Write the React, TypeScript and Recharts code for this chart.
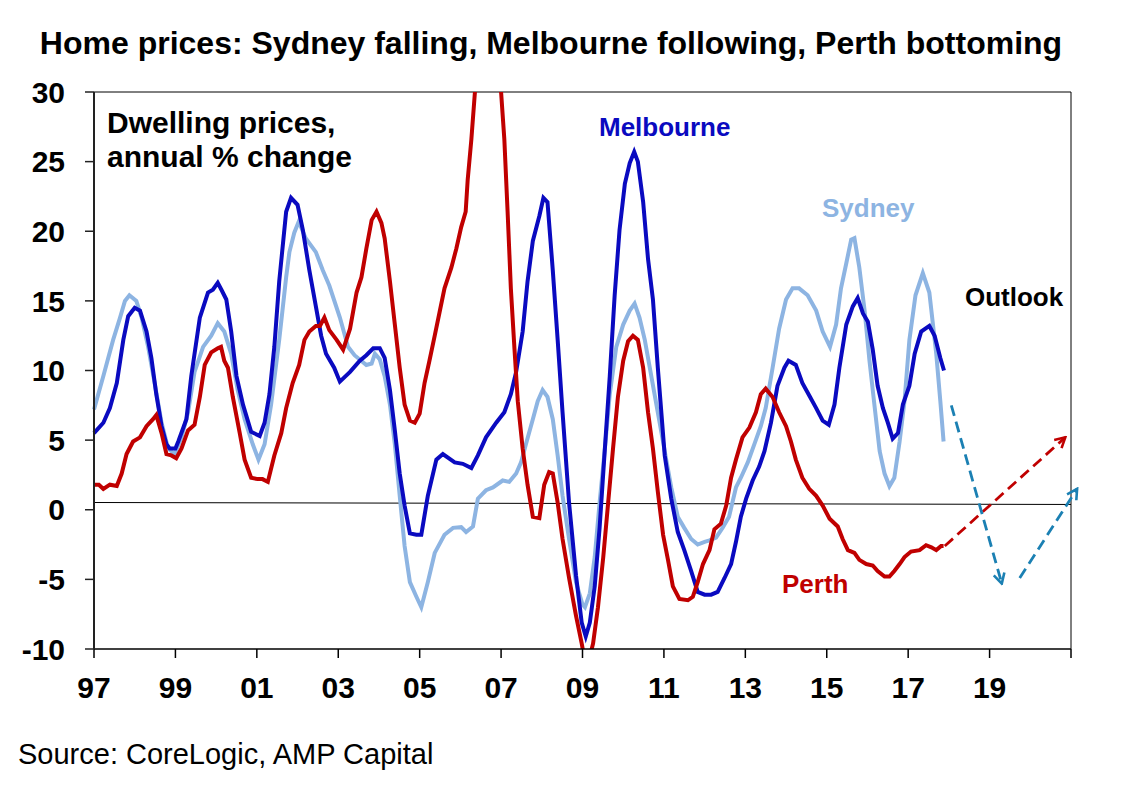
import { LineChart, Line, XAxis, YAxis, ReferenceLine } from 'recharts'

// annual % change, [year, value]
const sydney: [number, number][] = [
  [1997.0, 7.2], [1997.23, 9.6], [1997.47, 12.2], [1997.64, 13.8], [1997.76, 15.0], [1997.87, 15.4],
  [1998.04, 15.0], [1998.17, 13.8], [1998.33, 11.7], [1998.49, 9.1], [1998.66, 6.25], [1998.82, 4.4],
  [1998.98, 4.0], [1999.15, 5.2], [1999.31, 7.0], [1999.47, 9.9], [1999.68, 11.7], [1999.88, 12.5],
  [2000.04, 13.4], [2000.2, 12.8], [2000.37, 11.2], [2000.53, 8.6], [2000.7, 6.5], [2000.9, 4.7],
  [2001.04, 3.6], [2001.19, 4.7], [2001.35, 7.55], [2001.55, 12.2], [2001.72, 16.7], [2001.8, 18.5],
  [2001.92, 19.9], [2002.03, 20.7], [2002.2, 19.5], [2002.45, 18.5], [2002.62, 17.2], [2002.78, 16.1],
  [2003.04, 13.8], [2003.24, 11.7], [2003.4, 11.1], [2003.69, 10.4], [2003.82, 10.5], [2003.9, 11.2],
  [2004.02, 10.8], [2004.14, 9.6], [2004.27, 7.55], [2004.39, 4.7], [2004.51, 1.0], [2004.63, -2.6],
  [2004.76, -5.2], [2004.92, -6.25], [2005.04, -7.0], [2005.2, -5.2], [2005.37, -3.1], [2005.61, -1.8],
  [2005.82, -1.3], [2006.02, -1.25], [2006.14, -1.6], [2006.31, -1.2], [2006.43, 0.8], [2006.63, 1.4],
  [2006.8, 1.6], [2007.04, 2.1], [2007.2, 2.0], [2007.37, 2.6], [2007.49, 3.4], [2007.61, 4.7],
  [2007.78, 6.5], [2007.9, 7.8], [2008.02, 8.6], [2008.14, 8.1], [2008.27, 6.5], [2008.39, 3.9],
  [2008.51, 1.0], [2008.67, -2.1], [2008.84, -5.2], [2009.0, -6.8], [2009.06, -7.0], [2009.18, -6.0],
  [2009.3, -3.4], [2009.42, 0.5], [2009.55, 4.4], [2009.67, 8.3], [2009.83, 11.7], [2010.0, 13.3],
  [2010.16, 14.3], [2010.28, 14.8], [2010.4, 13.8], [2010.53, 12.2], [2010.69, 9.6], [2010.85, 7.0],
  [2011.02, 4.2], [2011.18, 1.6], [2011.34, -0.5], [2011.5, -1.3], [2011.67, -2.1], [2011.83, -2.5],
  [2012.0, -2.3], [2012.12, -2.2], [2012.28, -2.0], [2012.44, -1.3], [2012.6, -0.5], [2012.77, 1.6],
  [2012.89, 2.3], [2013.06, 3.4], [2013.22, 4.7], [2013.38, 6.0], [2013.5, 7.3], [2013.67, 10.2],
  [2013.83, 13.0], [2014.0, 15.1], [2014.16, 15.9], [2014.32, 15.9], [2014.53, 15.4], [2014.74, 14.3],
  [2014.9, 12.8], [2015.08, 11.7], [2015.23, 13.3], [2015.35, 15.9], [2015.48, 17.7], [2015.6, 19.4],
  [2015.68, 19.5], [2015.8, 17.4], [2015.93, 14.3], [2016.05, 10.7], [2016.17, 7.55], [2016.3, 4.2],
  [2016.42, 2.6], [2016.54, 1.7], [2016.66, 2.3], [2016.79, 4.9], [2016.91, 7.8], [2017.03, 12.2],
  [2017.18, 15.4], [2017.36, 17.0], [2017.52, 15.6], [2017.69, 11.2], [2017.79, 7.8], [2017.87, 4.9],
]

const melbourne: [number, number][] = [
  [1997.0, 5.5], [1997.23, 6.25], [1997.39, 7.3], [1997.56, 9.1], [1997.72, 12.2], [1997.84, 13.9],
  [1998.0, 14.5], [1998.13, 14.3], [1998.29, 12.8], [1998.41, 10.9], [1998.53, 8.3], [1998.66, 6.0],
  [1998.78, 4.7], [1998.86, 4.4], [1999.0, 4.4], [1999.07, 4.9], [1999.27, 6.5], [1999.39, 9.6],
  [1999.6, 13.8], [1999.8, 15.6], [1999.92, 15.8], [2000.04, 16.3], [2000.13, 15.8], [2000.25, 15.1],
  [2000.37, 12.8], [2000.5, 9.6], [2000.66, 7.55], [2000.86, 5.6], [2001.07, 5.3], [2001.19, 6.25],
  [2001.31, 8.3], [2001.43, 11.7], [2001.55, 16.4], [2001.72, 21.4], [2001.84, 22.4], [2002.0, 21.9],
  [2002.13, 20.1], [2002.29, 17.2], [2002.45, 14.6], [2002.58, 12.5], [2002.7, 11.2], [2002.9, 10.2],
  [2003.04, 9.2], [2003.29, 9.9], [2003.53, 10.7], [2003.69, 11.1], [2003.86, 11.6], [2004.02, 11.6],
  [2004.14, 10.9], [2004.27, 8.6], [2004.39, 5.7], [2004.51, 2.6], [2004.63, 0.3], [2004.76, -1.7],
  [2004.92, -1.8], [2005.04, -1.8], [2005.2, 1.0], [2005.41, 3.6], [2005.57, 4.0], [2005.86, 3.4],
  [2006.06, 3.3], [2006.27, 3.0], [2006.43, 3.9], [2006.63, 5.2], [2006.88, 6.25], [2007.08, 7.0],
  [2007.24, 8.3], [2007.37, 9.9], [2007.53, 12.8], [2007.65, 16.4], [2007.78, 19.3], [2007.94, 21.1],
  [2008.04, 22.4], [2008.14, 22.1], [2008.27, 17.2], [2008.39, 12.2], [2008.51, 7.0], [2008.67, 0.5],
  [2008.84, -4.7], [2008.98, -8.1], [2009.08, -9.1], [2009.18, -8.1], [2009.3, -5.5], [2009.42, -1.3],
  [2009.55, 4.4], [2009.67, 9.6], [2009.79, 15.4], [2009.91, 20.1], [2010.04, 23.4], [2010.16, 24.9],
  [2010.27, 25.7], [2010.36, 25.0], [2010.49, 22.1], [2010.61, 18.0], [2010.73, 15.1], [2010.85, 10.2],
  [2011.02, 3.9], [2011.18, 0.8], [2011.34, -1.6], [2011.5, -2.9], [2011.67, -4.4], [2011.83, -5.9],
  [2012.0, -6.1], [2012.16, -6.1], [2012.32, -5.9], [2012.49, -4.9], [2012.65, -3.9], [2012.77, -2.3],
  [2012.89, -0.5], [2013.02, 0.8], [2013.18, 2.1], [2013.34, 3.1], [2013.47, 4.2], [2013.63, 6.25],
  [2013.79, 8.9], [2013.96, 10.2], [2014.06, 10.7], [2014.24, 10.4], [2014.4, 9.1], [2014.57, 8.2],
  [2014.74, 7.3], [2014.9, 6.4], [2015.05, 6.1], [2015.19, 7.55], [2015.31, 10.2], [2015.48, 13.3],
  [2015.64, 14.6], [2015.76, 15.2], [2015.89, 14.1], [2016.01, 13.5], [2016.13, 11.5], [2016.25, 8.9],
  [2016.38, 7.3], [2016.5, 6.25], [2016.62, 5.1], [2016.75, 5.5], [2016.87, 7.55], [2017.03, 8.9],
  [2017.16, 11.2], [2017.32, 12.8], [2017.52, 13.2], [2017.65, 12.5], [2017.79, 10.9], [2017.88, 10.0],
]

const perth: [number, number][] = [
  [1997.0, 1.8], [1997.12, 1.8], [1997.23, 1.5], [1997.39, 1.8], [1997.56, 1.7], [1997.68, 2.6],
  [1997.8, 4.0], [1997.96, 4.9], [1998.13, 5.2], [1998.29, 6.0], [1998.45, 6.5], [1998.53, 6.8],
  [1998.66, 5.5], [1998.78, 4.0], [1998.9, 3.9], [1999.02, 3.7], [1999.15, 4.4], [1999.31, 5.7],
  [1999.47, 6.1], [1999.6, 8.1], [1999.72, 10.4], [1999.88, 11.3], [2000.04, 11.6], [2000.12, 11.7],
  [2000.2, 10.7], [2000.29, 10.2], [2000.41, 8.1], [2000.58, 5.5], [2000.7, 3.6], [2000.86, 2.3],
  [2001.02, 2.2], [2001.14, 2.2], [2001.27, 2.0], [2001.43, 3.9], [2001.6, 5.5], [2001.72, 7.3],
  [2001.88, 9.1], [2002.04, 10.4], [2002.17, 12.2], [2002.29, 12.8], [2002.45, 13.2], [2002.55, 13.2],
  [2002.66, 13.8], [2002.78, 12.9], [2002.96, 12.2], [2003.12, 11.5], [2003.29, 13.0], [2003.45, 15.6],
  [2003.57, 16.7], [2003.69, 18.75], [2003.82, 20.8], [2003.94, 21.4], [2004.06, 20.6], [2004.14, 19.5],
  [2004.27, 16.4], [2004.39, 13.3], [2004.51, 10.2], [2004.63, 7.55], [2004.76, 6.4], [2004.88, 6.25],
  [2005.0, 6.9], [2005.12, 9.1], [2005.24, 10.7], [2005.37, 12.5], [2005.49, 14.2], [2005.61, 15.9],
  [2005.78, 17.4], [2005.9, 18.75], [2006.02, 20.3], [2006.13, 21.4], [2006.18, 23.7], [2006.27, 26.6],
  [2006.35, 29.7], [2006.5, 35.5], [2006.68, 40.0], [2006.85, 36.0], [2007.0, 30.0], [2007.08, 26.6],
  [2007.16, 21.4], [2007.24, 15.9], [2007.33, 11.5], [2007.41, 7.8], [2007.53, 4.4], [2007.65, 1.8],
  [2007.78, -0.5], [2007.94, -0.6], [2008.06, 1.8], [2008.18, 2.7], [2008.27, 2.6], [2008.39, 0.5],
  [2008.51, -2.1], [2008.67, -4.9], [2008.84, -7.6], [2008.98, -9.6], [2009.1, -11.5], [2009.26, -9.6],
  [2009.38, -7.0], [2009.51, -3.4], [2009.63, 0.5], [2009.75, 4.4], [2009.87, 8.1], [2010.0, 10.7],
  [2010.12, 12.1], [2010.24, 12.5], [2010.36, 12.2], [2010.49, 10.2], [2010.61, 7.0], [2010.73, 4.4],
  [2010.85, 1.3], [2010.98, -1.8], [2011.1, -3.6], [2011.22, -5.5], [2011.38, -6.4], [2011.59, -6.5],
  [2011.71, -6.25], [2011.83, -5.2], [2011.96, -3.9], [2012.12, -2.9], [2012.24, -1.4], [2012.4, -1.0],
  [2012.53, 0.3], [2012.65, 2.3], [2012.77, 3.6], [2012.93, 5.2], [2013.1, 5.9], [2013.26, 7.0],
  [2013.38, 8.3], [2013.5, 8.7], [2013.67, 8.1], [2013.83, 7.0], [2014.0, 6.0], [2014.12, 4.9],
  [2014.24, 3.6], [2014.4, 2.3], [2014.57, 1.5], [2014.74, 1.0], [2014.9, 0.3], [2015.07, -0.65],
  [2015.27, -1.2], [2015.39, -2.1], [2015.52, -2.9], [2015.68, -3.1], [2015.8, -3.6], [2015.97, -3.9],
  [2016.13, -4.0], [2016.25, -4.4], [2016.42, -4.8], [2016.54, -4.8], [2016.66, -4.4], [2016.79, -3.9],
  [2016.91, -3.4], [2017.07, -3.0], [2017.28, -2.9], [2017.44, -2.55], [2017.57, -2.7], [2017.69, -2.9],
  [2017.81, -2.6], [2017.87, -2.6],
]

// outlook arrows, [year, value] start and end
const perthOutlook: [number, number][] = [[2017.9, -2.6], [2020.86, 5.2]]
const sydneyOutlookDown: [number, number][] = [[2018.06, 7.5], [2019.3, -5.3]]
const sydneyOutlookUp: [number, number][] = [[2019.74, -4.9], [2021.15, 1.5]]
// thin "zero" line as drawn
const baseLine: [number, number][] = [[1997, 0.52], [2021, 0.38]]

const yTicks = [-10, -5, 0, 5, 10, 15, 20, 25, 30]
const xTicks = [1997, 1999, 2001, 2003, 2005, 2007, 2009, 2011, 2013, 2015, 2017, 2019, 2021]

const FONT = '"Liberation Sans", Arial, Helvetica, sans-serif'
const SYD = '#8DB4E2'
const MEL = '#0A0AC0'
const PER = '#C00000'
const OUT_BLUE = '#1B80B3'

const toRows = (pts: [number, number][]) => pts.map(([t, v]) => ({ t, v }))
const toSeg = (pts: [number, number][]) => pts.map(([x, y]) => ({ x, y }))

function arrowShape(color: string, marker: string) {
  return (p: any) => (
    <line
      x1={p.x1}
      y1={p.y1}
      x2={p.x2}
      y2={p.y2}
      stroke={color}
      strokeWidth={2.8}
      strokeDasharray="11 6"
      markerEnd={`url(#${marker})`}
    />
  )
}

export default function App() {
  return (
    <div style={{ position: 'absolute', left: 0, top: 0, width: 1121, height: 789, background: '#fff', fontFamily: FONT }}>
      <LineChart width={1121} height={789} margin={{ top: 92, right: 50, bottom: 0, left: 0 }}>
        <XAxis
          dataKey="t"
          type="number"
          domain={[1997, 2021]}
          ticks={xTicks}
          tickFormatter={(v: number) => (v === 2021 ? '' : String(v).slice(2))}
          height={140}
          tickSize={9}
          tickMargin={19}
          axisLine={{ stroke: '#000', strokeWidth: 1.5 }}
          tickLine={{ stroke: '#000', strokeWidth: 1.5 }}
          tick={{ fill: '#000', fontSize: 30, fontWeight: 700, fontFamily: FONT }}
        />
        <YAxis
          type="number"
          domain={[-10, 30]}
          ticks={yTicks}
          allowDataOverflow
          width={94}
          tickSize={9}
          tickMargin={20}
          axisLine={{ stroke: '#222', strokeWidth: 2 }}
          tickLine={{ stroke: '#222', strokeWidth: 1.5 }}
          tick={{ fill: '#000', fontSize: 30, fontWeight: 700, fontFamily: FONT }}
        />
        <ReferenceLine y={30} stroke="#000" strokeWidth={1} />
        <ReferenceLine x={2021} stroke="#000" strokeWidth={1} />
        <ReferenceLine segment={toSeg(baseLine)} stroke="#000" strokeWidth={1} />

        <Line data={toRows(sydney)} dataKey="v" stroke={SYD} strokeWidth={4} dot={false} isAnimationActive={false} />
        <Line data={toRows(melbourne)} dataKey="v" stroke={MEL} strokeWidth={4} dot={false} isAnimationActive={false} />
        <Line data={toRows(perth)} dataKey="v" stroke={PER} strokeWidth={4} dot={false} isAnimationActive={false} />

        <ReferenceLine segment={toSeg(perthOutlook)} ifOverflow="visible" shape={arrowShape(PER, 'arrow-red')} />
        <ReferenceLine segment={toSeg(sydneyOutlookDown)} ifOverflow="visible" shape={arrowShape(OUT_BLUE, 'arrow-blue')} />
        <ReferenceLine segment={toSeg(sydneyOutlookUp)} ifOverflow="visible" shape={arrowShape(OUT_BLUE, 'arrow-blue')} />
      </LineChart>

      {/* labels drawn on top of the chart */}
      <svg width={1121} height={789} style={{ position: 'absolute', left: 0, top: 0, pointerEvents: 'none' }}>
        <defs>
          <marker id="arrow-red" viewBox="0 0 14 14" markerWidth={14} markerHeight={14} refX={12} refY={7} orient="auto" markerUnits="userSpaceOnUse">
            <path d="M2,1.5 L12,7 L2,12.5" fill="none" stroke={PER} strokeWidth={2.6} />
          </marker>
          <marker id="arrow-blue" viewBox="0 0 14 14" markerWidth={14} markerHeight={14} refX={12} refY={7} orient="auto" markerUnits="userSpaceOnUse">
            <path d="M2,1.5 L12,7 L2,12.5" fill="none" stroke={OUT_BLUE} strokeWidth={2.6} />
          </marker>
        </defs>
        <g fontFamily={FONT} fontWeight={700}>
          <text x={551} y={54} fontSize={32} textAnchor="middle" fill="#000">
            Home prices: Sydney falling, Melbourne following, Perth bottoming
          </text>
          <text x={107} y={133} fontSize={30} fill="#000">Dwelling prices,</text>
          <text x={107} y={167} fontSize={30} fill="#000">annual % change</text>
          <text x={599} y={136} fontSize={26} fill={MEL}>Melbourne</text>
          <text x={822} y={217} fontSize={26} fill={SYD}>Sydney</text>
          <text x={965} y={306} fontSize={26} fill="#000">Outlook</text>
          <text x={782} y={593} fontSize={26} fill={PER}>Perth</text>
        </g>
        <text x={18} y={764} fontSize={29} fontFamily={FONT} fill="#000">
          Source: CoreLogic, AMP Capital
        </text>
      </svg>
    </div>
  )
}
